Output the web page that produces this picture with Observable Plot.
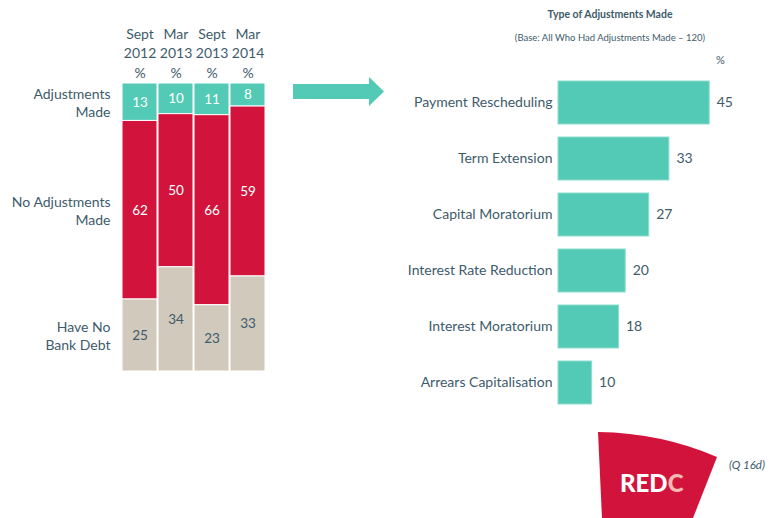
<!DOCTYPE html>
<html>
<head>
<meta charset="utf-8">
<script src="https://cdn.jsdelivr.net/npm/d3@7"></script>
<script src="https://cdn.jsdelivr.net/npm/@observablehq/plot@0.6"></script>
<style>
  html, body { margin: 0; padding: 0; background: #ffffff; }
  #wrap { position: relative; width: 773px; height: 518px; overflow: hidden; font-family: Lato, "Open Sans", sans-serif; color: #3E5B6B; }
  .abs { position: absolute; }
  #title { left: 480px; top: 8px; width: 260px; text-align: center; font-weight: 700; font-size: 10.5px; }
  #base { left: 470px; top: 32px; width: 280px; text-align: center; font-size: 9.5px; }
  #pct { left: 716px; top: 53px; font-size: 11px; }
  #q { left: 729px; top: 458px; font-size: 11.5px; font-style: italic; }
</style>
</head>
<body>
<div id="wrap">
  <div id="left" class="abs" style="left:0;top:0"></div>
  <div id="right" class="abs" style="left:380px;top:0"></div>
  <div id="title" class="abs">Type of Adjustments Made</div>
  <div id="base" class="abs">(Base: All Who Had Adjustments Made – 120)</div>
  <div id="pct" class="abs">%</div>
  <div id="q" class="abs">(Q 16d)</div>
  <svg class="abs" style="left:0;top:0" width="773" height="518">
    <polygon points="293,84 369,84 369,77 384,91.5 369,106 369,99 293,99" fill="#53CAB5"/>
    <path d="M598,432 Q662,433 717,457 L693,518 L602,518 Z" fill="#D2143C"/>
    <text x="620" y="492" font-family="Lato, sans-serif" font-weight="900" font-size="24" fill="#ffffff">RED<tspan fill="#F2B8B4">C</tspan></text>
  </svg>
</div>
<script>
// ---- Left chart data ----
const periods = ["Sept 2012", "Mar 2013", "Sept 2013", "Mar 2014"];
const periodHeaders = ["Sept\n2012\n%", "Mar\n2013\n%", "Sept\n2013\n%", "Mar\n2014\n%"];
const seriesNames = ["Adjustments Made", "No Adjustments Made", "Have No Bank Debt"];
const seriesLabels = ["Adjustments\nMade", "No Adjustments\nMade", "Have No\nBank Debt"];
const adjustmentsMade = [13, 10, 11, 8];
const noAdjustmentsMade = [62, 50, 66, 59];
const haveNoBankDebt = [25, 34, 23, 33];

// ---- Right chart data ----
const adjustmentTypes = ["Payment Rescheduling", "Term Extension", "Capital Moratorium", "Interest Rate Reduction", "Interest Moratorium", "Arrears Capitalisation"];
const adjustmentValues = [45, 33, 27, 20, 18, 10];

const teal = "#53CAB5", red = "#D2143C", grey = "#D0C9BC", slate = "#3E5B6B";

const seriesValues = [adjustmentsMade, noAdjustmentsMade, haveNoBankDebt];
const rows = [];
seriesNames.forEach((s, si) => periods.forEach((p, pi) => rows.push({period: p, series: s, value: seriesValues[si][pi], label: seriesLabels[si]})));
const stackOrder = ["Have No Bank Debt", "No Adjustments Made", "Adjustments Made"];
const stackOpts = (o) => Plot.stackY({x: "period", y: "value", z: "series", order: stackOrder, offset: "normalize", ...o});

const left = Plot.plot({
  width: 290, height: 390,
  marginLeft: 120, marginRight: 22, marginTop: 83, marginBottom: 19,
  style: {fontFamily: "Lato, sans-serif", fontSize: "14px", color: slate, background: "transparent", overflow: "visible"},
  x: {domain: periods, padding: 0.02, axis: null},
  y: {domain: [0, 1], axis: null},
  color: {domain: seriesNames, range: [teal, red, grey]},
  marks: [
    Plot.barY(rows, stackOpts({fill: "series", stroke: "white", strokeWidth: 1})),
    Plot.text(rows, stackOpts({text: d => d.series !== "Have No Bank Debt" ? d.value : null, fill: "white", fontSize: 13.5})),
    Plot.text(rows, stackOpts({text: d => d.series === "Have No Bank Debt" ? d.value : null, fill: slate, fontSize: 13.5})),
    Plot.text(periods, {x: d => d, text: (d, i) => periodHeaders[i], frameAnchor: "top", lineAnchor: "bottom", dy: -6, lineHeight: 1.38, fill: slate, fontSize: 14}),
    Plot.text(rows.filter(d => d.period === periods[0]), Plot.stackY({y: "value", z: "series", order: stackOrder, offset: "normalize", text: "label", frameAnchor: "left", textAnchor: "end", dx: -10, lineHeight: 1.25, fill: slate, fontSize: 14}))
  ]
});
document.getElementById("left").append(left);

const barRows = adjustmentTypes.map((t, i) => ({type: t, value: adjustmentValues[i]}));
const right = Plot.plot({
  width: 393, height: 420,
  marginLeft: 178, marginRight: 13.4, marginTop: 67, marginBottom: 2,
  style: {fontFamily: "Lato, sans-serif", fontSize: "14px", color: slate, background: "transparent", overflow: "visible"},
  x: {domain: [0, 60], axis: null},
  y: {domain: adjustmentTypes, padding: 0.24, label: null},
  marks: [
    Plot.barX(barRows, {y: "type", x: "value", fill: teal, stroke: "#8EDDD0", strokeWidth: 1}),
    Plot.text(barRows, {y: "type", x: "value", text: "value", textAnchor: "start", dx: 7, fill: slate, fontSize: 14}),
    Plot.axisY({tickSize: 0, tickPadding: 6, fontSize: 14, color: slate, label: null})
  ]
});
document.getElementById("right").append(right);
</script>
</body>
</html>
